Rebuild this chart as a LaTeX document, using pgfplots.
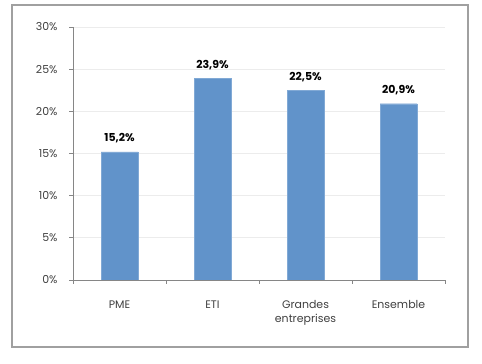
\documentclass[border=0pt]{standalone}
\usepackage{pgfplots}
\pgfplotsset{compat=1.18}
\usepackage{fontspec}
\setmainfont{Poppins}
\definecolor{barblue}{RGB}{97,147,202}
\definecolor{tickgray}{RGB}{64,64,64}
\definecolor{axgray}{RGB}{134,134,134}
\definecolor{gridgray}{RGB}{236,236,236}
\definecolor{framegray}{RGB}{160,160,160}
\begin{document}
\begin{tikzpicture}
\useasboundingbox (-73bp,-84bp) rectangle (409bp,280bp);
\fill[white] (-73bp,-84bp) rectangle (409bp,280bp);
\draw[framegray, line width=1.3bp] (-61bp,-67bp) rectangle (395bp,275bp);
\begin{axis}[
  at={(0,0)}, anchor=south west,
  scale only axis, width=372bp, height=253bp,
  xmin=0.5, xmax=4.5, ymin=0, ymax=30,
  axis lines*=left,
  axis line style={axgray, line width=0.8bp},
  xtick={0.5,1.5,2.5,3.5,4.5},
  xticklabels={},
  extra x ticks={1,2,3,4},
  extra x tick labels={PME,ETI,{Grandes\\entreprises},Ensemble},
  extra x tick style={major tick length=0pt, xmajorgrids=false},
  ytick={0,5,...,30},
  major tick length=4bp,
  tick align=outside,
  tick style={axgray, line width=0.8bp},
  ymajorgrids=true,
  grid style={gridgray, line width=0.8bp},
  /pgf/number format/assume math mode=true,
  yticklabel={\pgfmathprintnumber{\tick}\%},
  yticklabel style={font=\fontsize{11}{13}\selectfont, text=tickgray, xshift=-8bp},
  xticklabel style={font=\fontsize{11}{13.5}\selectfont, text=tickgray, align=center, anchor=north, yshift=-17bp},
  nodes near coords={\pgfmathprintnumber[fixed,fixed zerofill,precision=1,use comma]{\pgfplotspointmeta}\%},
  nodes near coords style={font=\bfseries\fontsize{11}{13}\selectfont, text=black, yshift=5bp},
]
\addplot[ybar, bar width=37bp, fill=barblue, draw=barblue!80!white] coordinates {(1,15.2) (2,23.9) (3,22.5) (4,20.9)};
\end{axis}
\end{tikzpicture}
\end{document}
